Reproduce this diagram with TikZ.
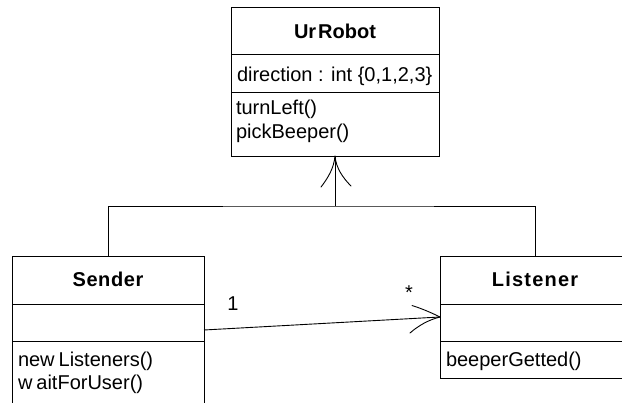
\documentclass[tikz,border=0pt]{standalone}
\usepackage{fontspec}
\setmainfont{Liberation Sans}
\begin{document}
\begin{tikzpicture}[x=1pt,y=-1pt,line width=0.9pt,
  every node/.style={inner sep=0pt,outer sep=0pt},
  compart/.style={draw,anchor=north west,minimum width=#1},
  member/.style={anchor=base west,font=\fontsize{20}{23}\selectfont},
  classname/.style={anchor=base,font=\fontsize{20}{23}\selectfont\bfseries},
  mult/.style={anchor=base,font=\fontsize{20}{23}\selectfont},
  openhead/.style={line width=0.9pt,line cap=round}]
\useasboundingbox (0,0) rectangle (622,403);
\clip (0,0) rectangle (622,403);
\fill[white] (0,0) rectangle (622,403);

% UrRobot class
\node[compart=208pt,minimum height=47pt] (urTitle) at (231,7) {};
\node[compart=208pt,minimum height=38pt] (urAttr) at (231,54) {};
\node[compart=208pt,minimum height=64pt] (urOps) at (231,92) {};
\node[classname] (urName) at (335,38.5) {Ur\kern2pt Robot};
\node[member] (urA1) at (237,82) {direction : int \{0,1,2,3\}};
\node[member] (urO1) at (236,115) {turnLeft()};
\node[member] (urO2) at (236,139) {pickBeeper()};

% Sender class (runs past the lower edge)
\node[compart=192pt,minimum height=48pt] (sTitle) at (12,256) {};
\node[compart=192pt,minimum height=37pt] (sAttr) at (12,304) {};
\node[compart=192pt,minimum height=80pt] (sOps) at (12,341) {};
\node[classname] (sName) at (108,287) {\addfontfeature{LetterSpace=3}Sender};
\node[member] (sO1) at (18,367) {new\kern4pt Listeners()};
\node[member] (sO2) at (18,390) {w\kern4pt aitForUser()};

% Listener class (runs past the right edge)
\node[compart=190pt,minimum height=48pt] (lTitle) at (440,256) {};
\node[compart=190pt,minimum height=37pt] (lAttr) at (440,304) {};
\node[compart=190pt,minimum height=37pt] (lOps) at (440,341) {};
\node[classname] (lName) at (535,287) {\addfontfeature{LetterSpace=6}Listener};
\node[member] (lO1) at (446,367) {beeperGetted()};

% Generalization tree
\coordinate (urTip) at (urOps.south);
\coordinate (junction) at (335,206);
\draw (urTip) -- (junction);
\draw (sTitle.north) |- (junction) -| (lTitle.north);
\draw[openhead] (urTip) .. controls (334,168) and (328,178) .. (321,187);
\draw[openhead] (urTip) .. controls (336,168) and (343,178) .. (351,186);

% Navigable association Sender -> Listener
\coordinate (assocFrom) at (204,330);
\coordinate (assocTo) at (440,317);
\draw (assocFrom) -- (assocTo);
\draw[openhead] (assocTo) .. controls (430,312) and (420,308) .. (412,305.5);
\draw[openhead] (assocTo) .. controls (428,320) and (418,326) .. (410,333);
\node[mult] (multS) at (233,311) {1};
\node[mult] (multL) at (409,300) {*};
\end{tikzpicture}
\end{document}
